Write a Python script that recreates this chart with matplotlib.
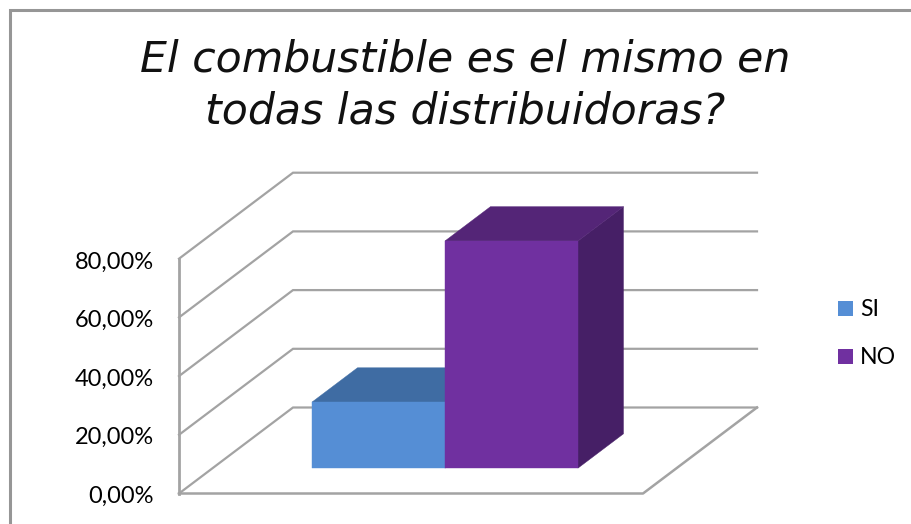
import matplotlib
matplotlib.use("Agg")
import matplotlib.pyplot as plt
from matplotlib.patches import Polygon, Rectangle

title_lines = ["El combustible es el mismo en", "todas las distribuidoras?"]
categories = ["SI", "NO"]
values = [22.5, 77.4]
ticks = [0, 20, 40, 60, 80]
tick_labels = ["0,00%", "20,00%", "40,00%", "60,00%", "80,00%"]

W, H = 911, 524
fig = plt.figure(figsize=(W / 100, H / 100), dpi=100)
ax = fig.add_axes([0, 0, 1, 1])
ax.set_xlim(0, W)
ax.set_ylim(H, 0)
ax.axis("off")

GRID = "#a3a3a3"
X0, Y0 = 179.0, 493.5
WIDTH = 464.0
PX_PER_UNIT = 234.8 / 80
DX, DY = 114.0, -86.0


def proj(frac, depth, value):
    return (X0 + WIDTH * frac + DX * depth, Y0 + DY * depth - PX_PER_UNIT * value)


# frame of the chart area
ax.plot([9.5, 9.5, W], [H, 10, 10], color="#969696", lw=2.2, solid_capstyle="butt", solid_joinstyle="miter")

# walls and gridlines
for t in ticks:
    pts = [proj(0, 0, t), proj(0, 1, t), proj(1, 1, t)]
    ax.plot(*zip(*pts), color=GRID, lw=1.6, solid_joinstyle="miter")
ax.plot(*zip(proj(0, 0, 0), proj(0, 0, 80)), color=GRID, lw=2)
ax.plot(*zip(proj(0, 0, 0), proj(1, 0, 0), proj(1, 1, 0)), color=GRID, lw=1.8)

# bars
front = ["#558ed5", "#7030a0"]
top = ["#3f6ca3", "#542577"]
side = ["#2f5480", "#461f66"]
D0, D1 = 0.295, 0.694
bar_w = 133.0 / WIDTH
start = (312.0 - X0 - DX * D0) / WIDTH
for i, (v, f, tp, s) in enumerate(zip(values, front, top, side)):
    a, b = start + i * bar_w, start + (i + 1) * bar_w
    ax.add_patch(Polygon([proj(b, D0, 0), proj(b, D1, 0), proj(b, D1, v), proj(b, D0, v)], fc=s, ec=s, lw=0.3, zorder=3 + i))
    ax.add_patch(Polygon([proj(a, D0, v), proj(a, D1, v), proj(b, D1, v), proj(b, D0, v)], fc=tp, ec=tp, lw=0.3, zorder=3 + i))
    ax.add_patch(Polygon([proj(a, D0, 0), proj(b, D0, 0), proj(b, D0, v), proj(a, D0, v)], fc=f, ec=f, lw=0.3, zorder=3 + i))

# tick labels
for t, lab in zip(ticks, tick_labels):
    ax.text(154, 496 - t * 2.92, lab, ha="right", va="center", family="Lato", fontsize=17, color="#000000")

# legend
for name, c, y in zip(categories, front, [309, 357]):
    ax.add_patch(Rectangle((838, y - 8), 15, 15, fc=c, ec="none"))
    ax.text(860, y + 1, name, ha="left", va="center", family="Lato", fontsize=16.6, color="#000000")

# title
for line, y in zip(title_lines, [59, 112]):
    ax.text(465, y, line, ha="center", va="center", family="DejaVu Sans", style="italic",
            fontsize=30.7, color="#111111")

fig.savefig("out.png", dpi=100, facecolor="white")
